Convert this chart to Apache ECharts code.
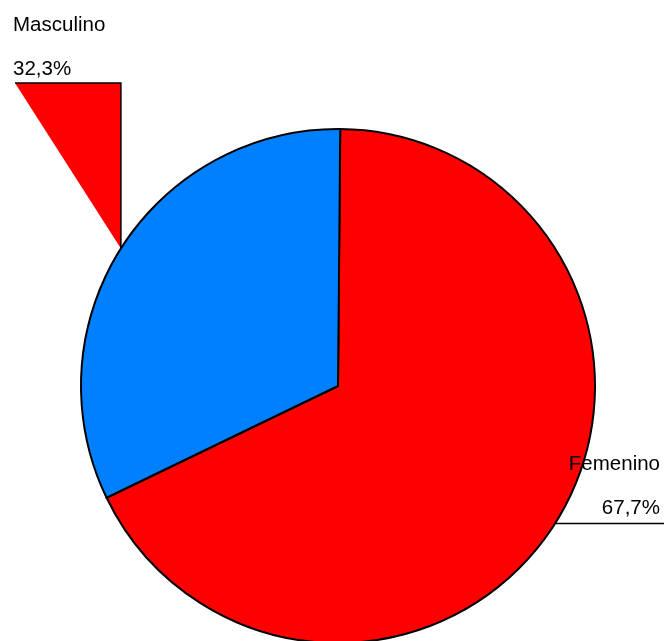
<!DOCTYPE html>
<html><head><meta charset="utf-8">
<style>html,body{margin:0;padding:0;background:#fff}#c{width:664px;height:641px}</style>
<script src="https://cdn.jsdelivr.net/npm/echarts@6/dist/echarts.min.js"></script>
</head><body><div id="c"></div>
<script>
const categories = ['Femenino', 'Masculino'];
const percentages = [67.7, 32.3];

const CX = 338, CY = 386, R = 257, START = 89.5;
const total = percentages.reduce((a, b) => a + b, 0);
function midPoint(i) {
  let cum = 0;
  for (let k = 0; k < i; k++) cum += percentages[k];
  const a = (START - (cum + percentages[i] / 2) / total * 360) * Math.PI / 180;
  return [CX + R * Math.cos(a), CY - R * Math.sin(a)];
}
const fmt = v => v.toFixed(1).replace('.', ',') + '%';
const fMid = midPoint(0), mMid = midPoint(1);
const chart = echarts.init(document.getElementById('c'), null, {renderer: 'canvas'});
const option = {
  animation: false,
  graphic: [{
    type: 'polygon', z: 0,
    shape: {points: [mMid, [mMid[0], 83], [15, 83]]},
    style: {fill: '#ff0000'}
  }],
  series: [{
    type: 'pie', center: [CX, CY], radius: R, startAngle: START, clockwise: true,
    avoidLabelOverlap: false,
    data: categories.map((n, i) => ({name: n, value: percentages[i]})),
    color: ['#ff0000', '#0080ff'],
    itemStyle: {borderColor: '#000', borderWidth: 2},
    label: {
      show: true, position: 'outside',
      formatter: p => p.name + '\n' + fmt(p.value),
      fontFamily: 'Arial, "Liberation Sans", sans-serif', fontSize: 20.5, color: '#000', lineHeight: 44
    },
    labelLine: {show: true, lineStyle: {color: '#000', width: 1.5}},
    labelLayout: function (p) {
      if (p.dataIndex === 0) {
        return {x: 660, y: 486, align: 'right', verticalAlign: 'middle',
          labelLinePoints: [fMid, [fMid[0] + 40, fMid[1]], [664, fMid[1]]]};
      }
      return {x: 13, y: 47, align: 'left', verticalAlign: 'middle',
        labelLinePoints: [mMid, [mMid[0], 83], [15, 83]]};
    }
  }]
};
chart.setOption(option);
</script>
</body></html>
